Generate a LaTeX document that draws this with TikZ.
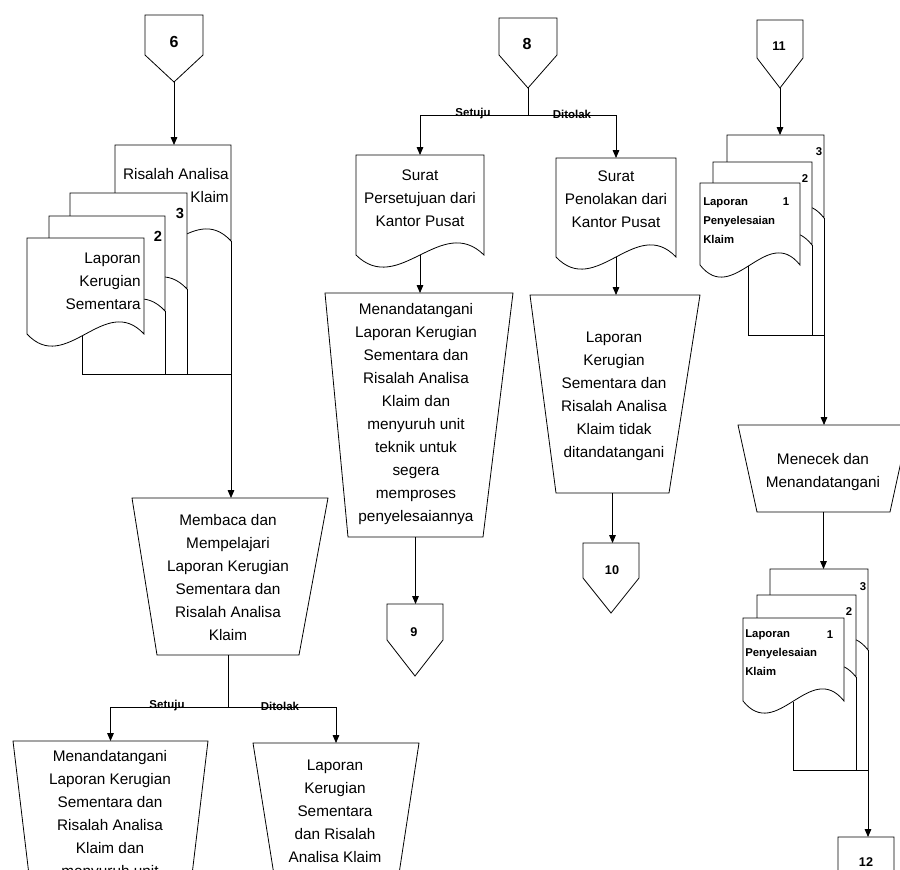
\documentclass[tikz,border=0pt]{standalone}
\usepackage{fontspec}
\setmainfont{Liberation Sans}
\usetikzlibrary{arrows.meta}

\tikzset{
  sheet/.style={draw, fill=white, line width=0.6pt},
  proc/.style={draw, line width=0.6pt},
  flowline/.style={draw, line width=0.6pt},
  flowarrow/.style={flowline, -{Triangle[length=6pt,width=5pt]}},
  maintext/.style={font=\fontsize{11.5}{17.25}\selectfont, align=center, inner sep=0pt},
  sidetext/.style={maintext, align=right, anchor=east},
  smalltext/.style={font=\bfseries\fontsize{8.5}{14.25}\selectfont, align=left, anchor=west, inner sep=0pt},
  branch/.style={font=\bfseries\fontsize{8.6}{10}\selectfont, inner sep=0pt},
  bignum/.style={font=\bfseries\fontsize{12}{14}\selectfont, inner sep=0pt},
  smallnum/.style={font=\bfseries\fontsize{9.5}{11}\selectfont, inner sep=0pt},
  copynum/.style={font=\bfseries\fontsize{11}{13}\selectfont, inner sep=0pt}
}

% depth of the wavy bottom of a document
\newcommand{\wavedepth}{42}
% document sheet: name, left x, top y, right x, bottom y
\newcommand{\docsheet}[5]{%
  \draw[sheet] (#2,#3) -- (#4,#3) -- (#4,#5)
    .. controls ({#2+(#4-#2)*2/3},{#5-\wavedepth}) and ({#2+(#4-#2)/3},{#5+\wavedepth}) .. (#2,#5) -- cycle;
  \coordinate (#1-n) at ({(#2+#4)/2},#3);
  \coordinate (#1-se) at (#4,#5);
}
% off-page connector: name, centre x, top y, half width, side bottom y, tip y
\newcommand{\offpage}[6]{%
  \draw[proc] ({#2-#4},#3) -- ({#2+#4},#3) -- ({#2+#4},#5) -- (#2,#6) -- ({#2-#4},#5) -- cycle;
  \coordinate (#1-top) at (#2,#3);
  \coordinate (#1-tip) at (#2,#6);
}
% manual operation: name, top left x, top right x, top y, bottom left x, bottom right x, bottom y
\newcommand{\procbox}[7]{%
  \draw[proc] (#2,#4) -- (#3,#4) -- (#6,#7) -- (#5,#7) -- cycle;
  \coordinate (#1-n) at ({(#2+#3)/2},#4);
  \coordinate (#1-s) at ({(#5+#6)/2},#7);
}

\begin{document}
\begin{tikzpicture}[x=0.75pt,y=0.75pt,yscale=-1,xscale=1]
\useasboundingbox (0,0) rectangle (900,869);
\clip (0,0) rectangle (900,869);

%Shape: off-page connectors
\offpage{c6}{174}{15}{29}{55}{82}
\offpage{c8}{528}{18}{29}{55}{88}
\offpage{c11}{780}{20}{23}{58}{88}
\offpage{c9}{415}{604}{28}{640}{676}
\offpage{c10}{611}{543}{28}{578}{613}
\offpage{c12}{866}{837}{28}{875}{910}

% Text Node
\node[bignum] (n6) at (174,42) {6};
\node[bignum] (n8) at (527,44) {8};
\node[smallnum] (n11) at (779,46) {11};
\node[smallnum] (n9) at (414,632) {9};
\node[smallnum] (n10) at (612,570) {10};
\node[smallnum] (n12) at (866,862) {12};

%Shape: left stack of documents
\docsheet{LA}{115}{145}{231}{241}
\docsheet{L3}{70}{193}{187}{289}
\docsheet{L2}{49}{216}{165}{311}
\docsheet{L1}{27}{238}{144}{334}
\node[sidetext] (tLA) at (229,186) {Risalah Analisa\\Klaim};
\node[copynum] (tL3) at (180,213) {3};
\node[copynum] (tL2) at (158,236) {2};
\node[sidetext] (tL1) at (141,281) {Laporan\\Kerugian\\Sementara};

%Shape: documents from head office
\docsheet{PS}{356}{155}{484}{255}
\docsheet{PN}{556}{158}{676}{257}
\node[maintext] (tPS) at (420,198) {Surat\\Persetujuan dari\\Kantor Pusat};
\node[maintext] (tPN) at (616,199) {Surat\\Penolakan dari\\Kantor Pusat};

%Shape: right stacks of documents
\docsheet{RA3}{727}{135}{824}{218}
\docsheet{RA2}{713}{162}{812}{245}
\docsheet{RA1}{700}{183}{800}{265}
\node[copynum, font=\bfseries\fontsize{8.5}{10}\selectfont] (tRA3) at (819,152) {3};
\node[copynum, font=\bfseries\fontsize{8.5}{10}\selectfont] (tRA2) at (805,179) {2};
\node[copynum, font=\bfseries\fontsize{8.5}{10}\selectfont] (tRA1) at (786,202) {1};
\node[smalltext] (tRA) at (703,221) {Laporan\\Penyelesaian\\Klaim};

\docsheet{RB3}{770}{569}{868}{650}
\docsheet{RB2}{757}{595}{856}{677}
\docsheet{RB1}{743}{618}{844}{701}
\node[copynum, font=\bfseries\fontsize{8.5}{10}\selectfont] (tRB3) at (863,587) {3};
\node[copynum, font=\bfseries\fontsize{8.5}{10}\selectfont] (tRB2) at (849,612) {2};
\node[copynum, font=\bfseries\fontsize{8.5}{10}\selectfont] (tRB1) at (830,635) {1};
\node[smalltext] (tRB) at (745,653) {Laporan\\Penyelesaian\\Klaim};

%Shape: manual operations
\procbox{TM}{132}{328}{498}{157}{299}{655}
\procbox{T8ok}{325}{513}{293}{348}{483}{537}
\procbox{T8no}{530}{700}{295}{556}{669}{493}
\procbox{TBL}{13}{208}{741}{32}{189}{900}
\procbox{TBR}{253}{419}{743}{278}{395}{900}
\procbox{TC}{738}{909}{425}{757}{890}{512}

\node[maintext] (tTM) at (228,578) {Membaca dan\\Mempelajari\\Laporan Kerugian\\Sementara dan\\Risalah Analisa\\Klaim};
\node[maintext] (tT8ok) at (416,414) {Menandatangani\\Laporan Kerugian\\Sementara dan\\Risalah Analisa\\Klaim dan\\menyuruh unit\\teknik untuk\\segera\\memproses\\penyelesaiannya};
\node[maintext] (tT8no) at (614,396) {Laporan\\Kerugian\\Sementara dan\\Risalah Analisa\\Klaim tidak\\ditandatangani};
\node[maintext] (tTBL) at (110,815) {Menandatangani\\Laporan Kerugian\\Sementara dan\\Risalah Analisa\\Klaim dan\\menyuruh unit};
\node[maintext] (tTBR) at (335,811) {Laporan\\Kerugian\\Sementara\\dan Risalah\\Analisa Klaim};
\node[maintext] (tTC) at (823,472) {Menecek dan\\Menandatangani};

%Connectors: left column
\draw[flowarrow] (c6-tip) -- (c6-tip |- LA-n);
\coordinate (L1-foot) at (82,336);
\coordinate (busL) at (82,374);
\draw[flowline] (L1-foot) -- (busL) -- (busL -| LA-se);
\draw[flowline] (L2-se) -- (L2-se |- busL);
\draw[flowline] (L3-se) -- (L3-se |- busL);
\draw[flowarrow] (LA-se) -- (LA-se |- TM-n);
\coordinate (splitM) at (228,707);
\draw[flowline] (TM-s) -- (splitM);
\draw[flowarrow] (splitM) -| (TBL-n);
\draw[flowarrow] (splitM) -| (TBR-n);
\node[branch] (okM) at (167,706) {Setuju};
\node[branch] (noM) at (280,706) {Ditolak};

%Connectors: middle column
\coordinate (split8) at (528,115);
\draw[flowline] (c8-tip) -- (split8);
\draw[flowarrow] (split8) -| (PS-n);
\draw[flowarrow] (split8) -| (PN-n);
\node[branch] (ok8) at (473,114) {Setuju};
\node[branch] (no8) at (572,114) {Ditolak};
\coordinate (PS-foot) at (420,255);
\coordinate (PN-foot) at (616,257);
\draw[flowarrow] (PS-foot) -- (PS-foot |- T8ok-n);
\draw[flowarrow] (PN-foot) -- (PN-foot |- T8no-n);
\draw[flowarrow] (T8ok-s) -- (T8ok-s |- c9-top);
\draw[flowarrow] (T8no-s) -- (T8no-s |- c10-top);

%Connectors: right column
\draw[flowarrow] (c11-tip) -- (c11-tip |- RA3-n);
\coordinate (RA1-foot) at (748,266);
\coordinate (busRA) at (748,335);
\draw[flowline] (RA1-foot) -- (busRA) -- (busRA -| RA3-se);
\draw[flowline] (RA2-se) -- (RA2-se |- busRA);
\draw[flowarrow] (RA3-se) -- (RA3-se |- TC-n);
\draw[flowarrow] (TC-s) -- (TC-s |- RB3-n);
\coordinate (RB1-foot) at (793,702);
\coordinate (busRB) at (793,770);
\draw[flowline] (RB1-foot) -- (busRB) -- (busRB -| RB3-se);
\draw[flowline] (RB2-se) -- (RB2-se |- busRB);
\draw[flowarrow] (RB3-se) -- (RB3-se |- c12-top);

\end{tikzpicture}
\end{document}
